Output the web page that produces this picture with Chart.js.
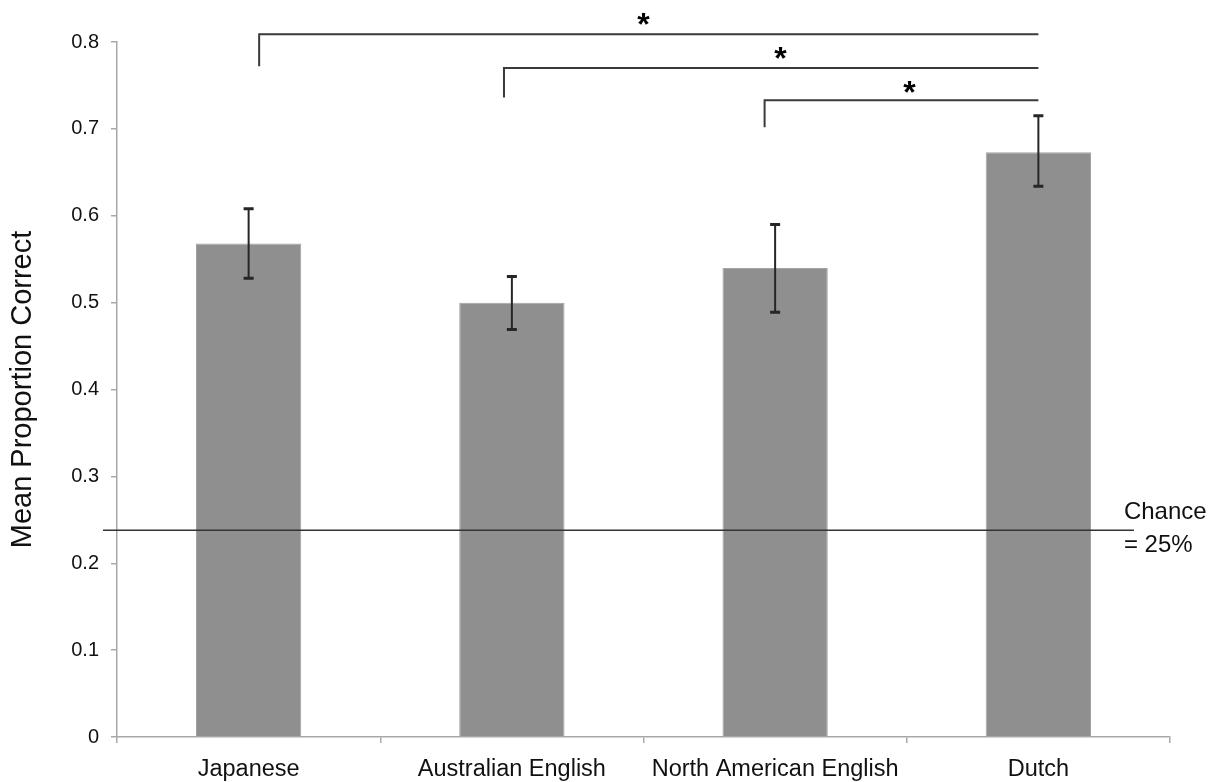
<!DOCTYPE html>
<html>
<head>
<meta charset="utf-8">
<script src="https://cdn.jsdelivr.net/npm/chart.js@4/dist/chart.umd.min.js"></script>
<style>
html,body{margin:0;padding:0;background:#fff;}
#c{display:block;}
</style>
</head>
<body>
<canvas id="c" width="1219" height="782"></canvas>
<script>
const categories = ['Japanese', 'Australian English', 'North American English', 'Dutch'];
const meanCorrect = [0.568, 0.500, 0.540, 0.673];
const errLow = [0.528, 0.469, 0.489, 0.634];
const errHigh = [0.608, 0.530, 0.590, 0.715];
const yTicks = [0, 0.1, 0.2, 0.3, 0.4, 0.5, 0.6, 0.7, 0.8];
const chanceValue = 0.238;
const chanceLabel = ['Chance', '= 25%'];
const chanceFrom = -0.553;
const chanceTo = 3.363;
const bracketLeft = [0.04, 0.97, 1.96];
const bracketRight = [3.0, 3.0, 3.0];
const bracketTop = [0.809, 0.770, 0.733];
const bracketDrop = [0.772, 0.736, 0.702];
const starX = [1.5, 2.02, 2.51];
const starY = [0.8285, 0.789, 0.750];
const starText = '*';

const FONT = '"Liberation Sans", Arial, Helvetica, sans-serif';

function catPx(xs, v) {
  const p0 = xs.getPixelForValue(0);
  const p1 = xs.getPixelForValue(1);
  return p0 + v * (p1 - p0);
}

const overlay = {
  id: 'overlay',
  afterDatasetsDraw(chart) {
    const ctx = chart.ctx;
    const xs = chart.scales.x, ys = chart.scales.y;
    const meta = chart.getDatasetMeta(0);
    ctx.save();
    // error bars
    ctx.strokeStyle = '#262626';
    meta.data.forEach((bar, i) => {
      const x = bar.x;
      const yl = ys.getPixelForValue(errLow[i]);
      const yh = ys.getPixelForValue(errHigh[i]);
      ctx.lineWidth = 2;
      ctx.beginPath();
      ctx.moveTo(x, yl); ctx.lineTo(x, yh);
      ctx.stroke();
      ctx.lineWidth = 3;
      ctx.beginPath();
      ctx.moveTo(x - 5, yl); ctx.lineTo(x + 5, yl);
      ctx.moveTo(x - 5, yh); ctx.lineTo(x + 5, yh);
      ctx.stroke();
    });
    // chance line
    const cy = ys.getPixelForValue(chanceValue);
    ctx.strokeStyle = '#333';
    ctx.lineWidth = 1.6;
    ctx.beginPath();
    ctx.moveTo(catPx(xs, chanceFrom), cy);
    ctx.lineTo(catPx(xs, chanceTo), cy);
    ctx.stroke();
    ctx.fillStyle = '#111';
    ctx.font = '24px ' + FONT;
    ctx.textAlign = 'left';
    ctx.textBaseline = 'alphabetic';
    const lx = catPx(xs, chanceTo) - 10;
    ctx.fillText(chanceLabel[0], lx, cy - 11);
    ctx.fillText(chanceLabel[1], lx, cy + 22);
    // brackets
    ctx.strokeStyle = '#3a3a3a';
    ctx.lineWidth = 2;
    for (let i = 0; i < bracketLeft.length; i++) {
      const xl = catPx(xs, bracketLeft[i]);
      const xr = catPx(xs, bracketRight[i]);
      const yt = ys.getPixelForValue(bracketTop[i]);
      const yd = ys.getPixelForValue(bracketDrop[i]);
      ctx.beginPath();
      ctx.moveTo(xl, yd);
      ctx.lineTo(xl, yt);
      ctx.lineTo(xr, yt);
      ctx.stroke();
    }
    // stars
    ctx.fillStyle = '#000';
    const sz = 32;
    ctx.font = 'bold ' + sz + 'px ' + FONT;
    ctx.textAlign = 'center';
    for (let i = 0; i < starX.length; i++) {
      const sx = catPx(xs, starX[i]);
      const sy = ys.getPixelForValue(starY[i]);
      ctx.fillText(starText, sx, sy + 0.56 * sz);
    }
    ctx.restore();
  }
};

new Chart(document.getElementById('c'), {
  type: 'bar',
  data: {
    labels: categories,
    datasets: [{
      data: meanCorrect,
      backgroundColor: '#8f8f8f',
      borderColor: '#a3a3a3',
      borderWidth: {left: 1, right: 1, top: 1, bottom: 0},
      categoryPercentage: 1.0,
      barPercentage: 0.4
    }]
  },
  options: {
    responsive: false,
    devicePixelRatio: 1,
    animation: false,
    layout: {padding: {top: 42, right: 49, left: 0, bottom: 0}},
    plugins: {legend: {display: false}, tooltip: {enabled: false}},
    scales: {
      x: {
        afterFit(s) { s.height = 45; },
        grid: {drawOnChartArea: false, tickLength: 6, color: '#a8a8a8', lineWidth: 1.5, offset: true},
        border: {color: '#a8a8a8', width: 1.5},
        ticks: {color: '#111', padding: 12, font: {family: FONT, size: 23.5}}
      },
      y: {
        min: 0,
        max: 0.8,
        afterFit(s) { s.width = 117; },
        afterBuildTicks(s) { s.ticks = yTicks.map(v => ({value: v})); },
        grid: {drawOnChartArea: false, tickLength: 6, color: '#a8a8a8', lineWidth: 1.5},
        border: {color: '#a8a8a8', width: 1.5},
        ticks: {
          color: '#111', padding: 12,
          font: {family: FONT, size: 20},
          callback: v => v === 0 ? '0' : v.toFixed(1)
        },
        title: {
          display: true,
          text: 'Mean Proportion Correct',
          color: '#111',
          font: {family: FONT, size: 29},
          padding: {top: 6, bottom: 0}
        }
      }
    }
  },
  plugins: [overlay]
});
</script>
</body>
</html>
